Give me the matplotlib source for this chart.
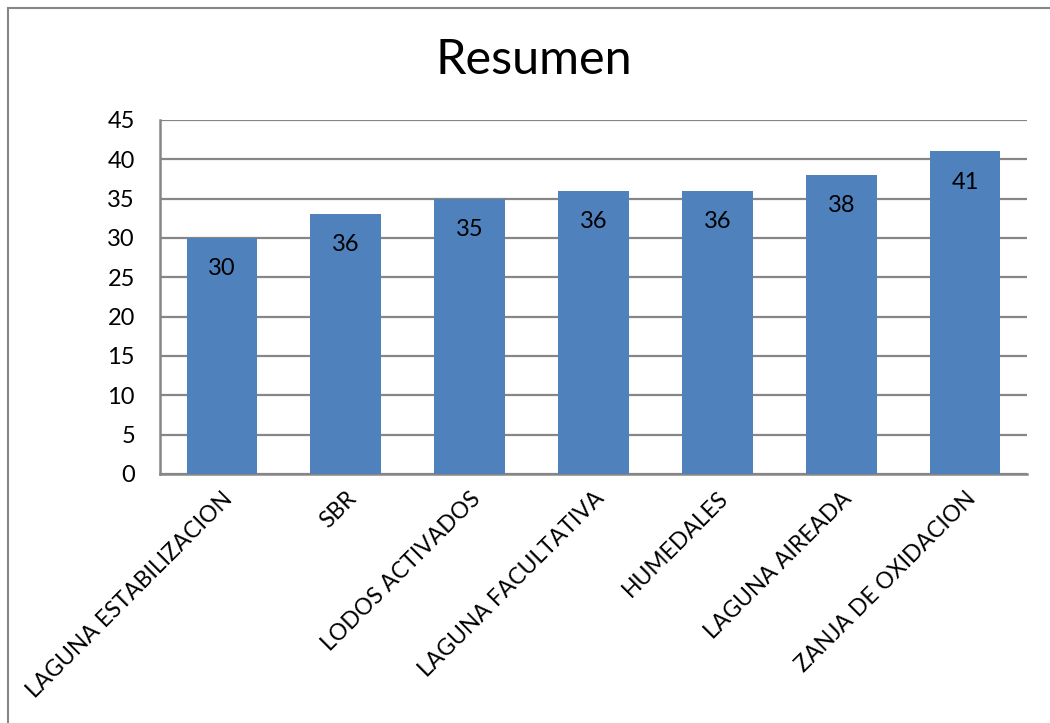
import matplotlib.pyplot as plt
from matplotlib.patches import Rectangle

# datos del grafico
categorias = ["LAGUNA ESTABILIZACION", "SBR", "LODOS ACTIVADOS", "LAGUNA FACULTATIVA",
              "HUMEDALES", "LAGUNA AIREADA", "ZANJA DE OXIDACION"]
alturas = [30, 33, 35, 36, 36, 38, 41]
etiquetas = ["30", "36", "35", "36", "36", "38", "41"]
yticks = [0, 5, 10, 15, 20, 25, 30, 35, 40, 45]

plt.rcParams['font.family'] = ['Lato', 'DejaVu Sans']

fig = plt.figure(figsize=(10.5, 7.23), dpi=100)
ax = fig.add_axes([160 / 1050, 1 - 474 / 723, 867 / 1050, 354 / 723])

x = list(range(len(categorias)))
barras = ax.bar(x, alturas, width=0.57, color="#4f81bd", zorder=3)
for b, txt in zip(barras, etiquetas):
    ax.annotate(txt, (b.get_x() + b.get_width() / 2, b.get_height()),
                xytext=(0, -22), textcoords="offset points",
                ha="center", va="center", fontsize=17, color="black", zorder=4)

ax.set_xlim(-0.5, len(categorias) - 0.5)
ax.set_ylim(0, 45)
ax.set_yticks(yticks)
ax.yaxis.grid(True, color="#868686", linewidth=1.6, zorder=0)
ax.tick_params(axis="y", length=0, labelsize=17, pad=18)
ax.tick_params(axis="x", length=0, pad=10)
ax.set_xticks(x)
ax.set_xticklabels(categorias, rotation=45, ha="right", rotation_mode="anchor", fontsize=16.5)

for s in ["top", "right"]:
    ax.spines[s].set_visible(False)
for s in ["left", "bottom"]:
    ax.spines[s].set_color("#868686")
    ax.spines[s].set_linewidth(1.8)

fig.text(0.508, 1 - 60 / 723, "Resumen", ha="center", va="center", fontsize=35)

# marco exterior (solo se ven los bordes superior e izquierdo)
fig.patches.append(Rectangle((8 / 1050, -0.05), 1.1, 1 - 8 / 723 + 0.05,
                             transform=fig.transFigure, fill=False,
                             edgecolor="#868686", linewidth=1.5))

fig.savefig("out.png", dpi=100)
